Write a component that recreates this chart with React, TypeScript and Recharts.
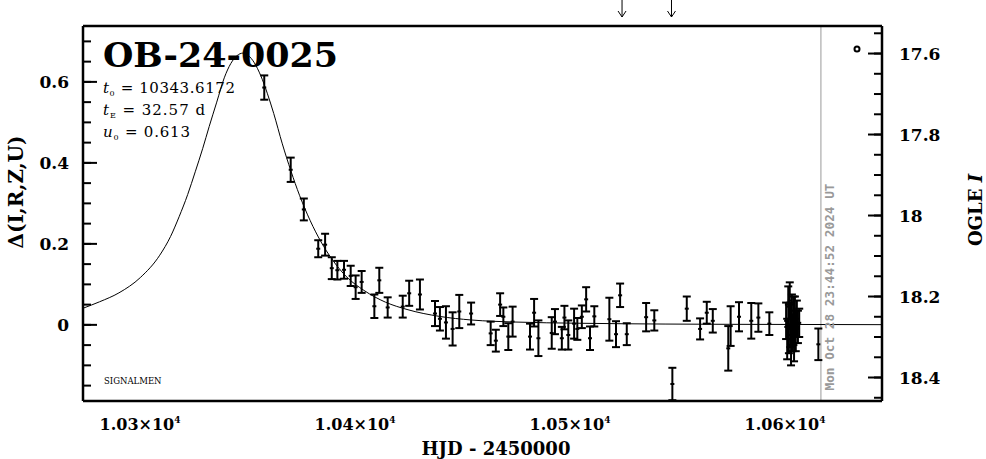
import React from 'react';
import { ComposedChart, Line, Scatter, ErrorBar, XAxis, YAxis, ReferenceLine } from 'recharts';

// OGLE photometry: HJD-2450000, delta magnitude and its error
const obsHjd = [
  10353.6, 10365.9, 10372.0, 10378.7, 10381.9, 10385.0, 10387.6, 10390.7, 10393.8, 10396.1,
  10398.9, 10404.8, 10407.1, 10411.0, 10418.0, 10421.0, 10426.0, 10433.0, 10435.3, 10438.1,
  10441.2, 10444.3, 10449.8, 10458.9, 10461.3, 10463.3, 10464.8, 10467.1, 10469.1, 10477.2,
  10479.1, 10481.1, 10487.3, 10488.8, 10492.0, 10493.2, 10495.0, 10497.7, 10499.2, 10501.3,
  10503.3, 10505.1, 10507.1, 10514.1, 10517.2, 10519.1, 10522.2, 10531.2, 10535.0, 10543.4,
  10550.1, 10556.3, 10559.4, 10562.2, 10569.4, 10570.5, 10574.4, 10580.1, 10583.4, 10588.5,
  10596.3, 10596.8, 10597.3, 10597.6, 10598.0, 10598.3, 10598.6, 10599.0, 10599.3, 10599.7,
  10600.0, 10600.4, 10600.8, 10601.3, 10601.8, 10602.4, 10611.3,
];
const obsDelta = [
  0.586, 0.383, 0.285, 0.188, 0.198, 0.140, 0.135, 0.136, 0.121, 0.093,
  0.106, 0.046, 0.110, 0.043, 0.045, 0.078, 0.075, 0.028, 0.015, 0.006,
  -0.010, 0.033, 0.028, -0.021, -0.039, 0.050, 0.020, -0.029, 0.008, -0.029,
  0.030, -0.033, -0.020, 0.008, -0.033, 0.018, -0.025, 0.003, -0.010, 0.020,
  0.063, -0.033, 0.021, 0.014, -0.023, 0.073, -0.023, 0.019, 0.011, -0.146,
  0.040, -0.010, 0.030, 0.010, -0.058, -0.003, 0.020, 0.010, 0.018, 0.003,
  0.010, -0.035, 0.045, -0.010, 0.060, 0.000, -0.050, 0.025, -0.020, 0.010,
  -0.040, 0.030, -0.015, 0.015, -0.005, 0.005, -0.048,
];
const obsErr = [
  0.030, 0.030, 0.027, 0.021, 0.027, 0.027, 0.023, 0.022, 0.025, 0.029,
  0.027, 0.029, 0.031, 0.025, 0.027, 0.031, 0.037, 0.031, 0.029, 0.040,
  0.041, 0.041, 0.027, 0.029, 0.027, 0.028, 0.023, 0.033, 0.037, 0.032,
  0.034, 0.044, 0.039, 0.031, 0.028, 0.029, 0.036, 0.037, 0.027, 0.028,
  0.030, 0.029, 0.025, 0.053, 0.032, 0.029, 0.027, 0.035, 0.025, 0.040,
  0.030, 0.026, 0.027, 0.029, 0.055, 0.049, 0.036, 0.044, 0.035, 0.028,
  0.045, 0.050, 0.050, 0.060, 0.045, 0.055, 0.050, 0.050, 0.045, 0.060,
  0.050, 0.040, 0.050, 0.045, 0.040, 0.035, 0.039,
];

// model light curve
const modelHjd = [
  10269.3, 10277, 10286, 10296, 10305, 10310, 10314, 10318, 10321.5, 10325,
  10328, 10331.5, 10335, 10338, 10341, 10343.6, 10346, 10349, 10352, 10355,
  10358, 10362, 10366, 10370, 10375, 10380, 10385, 10392, 10400, 10410,
  10420, 10435, 10450, 10470, 10500, 10540, 10600, 10640.9,
];
const modelDelta = [
  0.041, 0.057, 0.079, 0.117, 0.172, 0.218, 0.267, 0.322, 0.378, 0.436,
  0.49, 0.55, 0.61, 0.645, 0.665, 0.671, 0.666, 0.647, 0.615, 0.572,
  0.522, 0.447, 0.38, 0.32, 0.257, 0.205, 0.163, 0.118, 0.085, 0.056,
  0.038, 0.021, 0.012, 0.007, 0.004, 0.002, 0.001, 0.0005,
];

const arrowHjd = [10520, 10543];
const nowHjd = 10612.5;

const xMajorTicks = [10300, 10400, 10500, 10600];
const xMinorTicks = [
  10280, 10300, 10320, 10340, 10360, 10380, 10400, 10420, 10440, 10460,
  10480, 10500, 10520, 10540, 10560, 10580, 10600, 10620, 10640,
];
const deltaMajorTicks = [0, 0.2, 0.4, 0.6];
const deltaMinorTicks = [
  -0.15, -0.1, -0.05, 0, 0.05, 0.1, 0.15, 0.2, 0.25, 0.3, 0.35, 0.4, 0.45, 0.5, 0.55, 0.6, 0.65, 0.7,
];
const magMajorTicks = [17.6, 17.8, 18, 18.2, 18.4];
const magMinorTicks = [
  17.55, 17.6, 17.65, 17.7, 17.75, 17.8, 17.85, 17.9, 17.95, 18, 18.05, 18.1, 18.15, 18.2, 18.25,
  18.3, 18.35, 18.4, 18.45,
];

const X_DOMAIN: [number, number] = [10269.3, 10640.9];
const DELTA_DOMAIN: [number, number] = [-0.188, 0.738];
const MAG_DOMAIN: [number, number] = [17.532, 18.458];

const observations = obsHjd.map((x, i) => ({ x, y: obsDelta[i], err: obsErr[i] }));
const model = modelHjd.map((x, i) => ({ x, y: modelDelta[i] }));
const arrows = arrowHjd.map((x) => ({ x, y: DELTA_DOMAIN[1] }));

const SERIF = 'DejaVu Serif';
const tickFont = { fill: '#000', fontSize: 17, fontWeight: 'bold', fontFamily: SERIF };
const frameLine = { stroke: '#000', strokeWidth: 2.5 };
const tickStroke = { stroke: '#000', strokeWidth: 2 };

// tick marks only, no label
const NoLabel = () => <g />;

const XTick = ({ x, y, payload }: any) => (
  <text x={x - 9} y={y + 29} textAnchor="middle" fontFamily={SERIF} fontWeight="bold" fontSize={16} fill="#000">
    {(payload.value / 10000).toFixed(2)}×10
    <tspan dy={-7} fontSize={9}>4</tspan>
  </text>
);

const ObsPoint = ({ cx, cy }: any) => <rect x={cx - 2} y={cy - 1} width={4} height={2} fill="#000" />;

const ArrowMark = ({ cx, cy }: any) => (
  <g>
    <line x1={cx} y1={cy - 26} x2={cx} y2={cy - 9} stroke="#000" strokeWidth={1} />
    <path d={`M${cx - 4},${cy - 15} L${cx},${cy - 9} L${cx + 4},${cy - 15}`} fill="none" stroke="#000" strokeWidth={1} />
  </g>
);

export default function App() {
  return (
    <div style={{ position: 'absolute', left: 0, top: 0, width: 986, height: 459, background: '#fff' }}>
      <ComposedChart width={986} height={459} margin={{ top: 26, right: 0, bottom: 0, left: 0 }}>
        {/* inward tick marks (mirrored axes go first so they sit on the frame) */}
        <XAxis xAxisId="xb1" orientation="bottom" mirror type="number" domain={X_DOMAIN} allowDataOverflow
          ticks={xMajorTicks} interval={0} tick={<NoLabel />} tickSize={14} height={1} axisLine={frameLine} tickLine={tickStroke} />
        <XAxis xAxisId="xb2" orientation="bottom" mirror type="number" domain={X_DOMAIN} allowDataOverflow
          ticks={xMinorTicks} interval={0} tick={<NoLabel />} tickSize={7} height={1} axisLine={false} tickLine={tickStroke} />
        <XAxis xAxisId="xt1" orientation="top" mirror type="number" domain={X_DOMAIN} allowDataOverflow
          ticks={xMajorTicks} interval={0} tick={<NoLabel />} tickSize={14} height={1} axisLine={frameLine} tickLine={tickStroke} />
        <XAxis xAxisId="xt2" orientation="top" mirror type="number" domain={X_DOMAIN} allowDataOverflow
          ticks={xMinorTicks} interval={0} tick={<NoLabel />} tickSize={7} height={1} axisLine={false} tickLine={tickStroke} />
        <YAxis yAxisId="dl1" orientation="left" mirror type="number" domain={DELTA_DOMAIN} allowDataOverflow
          ticks={deltaMajorTicks} interval={0} tick={<NoLabel />} tickSize={14} width={1} axisLine={frameLine} tickLine={tickStroke} />
        <YAxis yAxisId="dl2" orientation="left" mirror type="number" domain={DELTA_DOMAIN} allowDataOverflow
          ticks={deltaMinorTicks} interval={0} tick={<NoLabel />} tickSize={7} width={1} axisLine={false} tickLine={tickStroke} />
        <YAxis yAxisId="mr1" orientation="right" mirror type="number" domain={MAG_DOMAIN} reversed allowDataOverflow
          ticks={magMajorTicks} interval={0} tick={<NoLabel />} tickSize={14} width={1} axisLine={frameLine} tickLine={tickStroke} />
        <YAxis yAxisId="mr2" orientation="right" mirror type="number" domain={MAG_DOMAIN} reversed allowDataOverflow
          ticks={magMinorTicks} interval={0} tick={<NoLabel />} tickSize={7} width={1} axisLine={false} tickLine={tickStroke} />

        {/* labelled axes */}
        <XAxis xAxisId="x" dataKey="x" type="number" domain={X_DOMAIN} ticks={xMajorTicks} interval={0}
          height={58} tickSize={0} tickMargin={0} axisLine={false} tickLine={false} tick={<XTick />} />
        <YAxis yAxisId="d" dataKey="y" type="number" domain={DELTA_DOMAIN} ticks={deltaMajorTicks} interval={0}
          width={83} tickSize={0} tickMargin={14} axisLine={false} tickLine={false} tick={tickFont}
          tickFormatter={(v: number) => String(v)} />
        <YAxis yAxisId="m" orientation="right" type="number" domain={MAG_DOMAIN} reversed allowDataOverflow
          ticks={magMajorTicks} interval={0} width={104} tickSize={0} tickMargin={17} axisLine={false}
          tickLine={false} tick={tickFont} tickFormatter={(v: number) => String(v)} />

        <ReferenceLine xAxisId="x" yAxisId="d" x={nowHjd} stroke="#999" strokeWidth={1} />

        <Line xAxisId="x" yAxisId="d" data={model} dataKey="y" type="monotone" stroke="#000"
          strokeWidth={1} dot={false} isAnimationActive={false} />
        <Scatter xAxisId="x" yAxisId="d" data={observations} dataKey="y" shape={<ObsPoint />} isAnimationActive={false}>
          <ErrorBar dataKey="err" direction="y" width={4} strokeWidth={2} stroke="#000" isAnimationActive={false} />
        </Scatter>
        <Scatter xAxisId="x" yAxisId="d" data={arrows} dataKey="y" shape={<ArrowMark />} isAnimationActive={false} />
      </ComposedChart>

      <svg width={986} height={459} style={{ position: 'absolute', left: 0, top: 0, pointerEvents: 'none' }}>
        <text x={103} y={67} fontFamily={SERIF} fontWeight="bold" fontSize={33} textLength={235}
          lengthAdjust="spacingAndGlyphs" fill="#000">OB-24-0025</text>
        <g fontFamily={SERIF} fontSize={15} fill="#000">
          <text x={103} y={93} textLength={132} lengthAdjust="spacing">
            <tspan fontStyle="italic">t</tspan><tspan fontSize={8} dy={3}>0</tspan>
            <tspan dy={-3}> = 10343.6172</tspan>
          </text>
          <text x={103} y={115} textLength={102} lengthAdjust="spacing">
            <tspan fontStyle="italic">t</tspan><tspan fontSize={8} dy={3}>E</tspan>
            <tspan dy={-3}> = 32.57 d</tspan>
          </text>
          <text x={103} y={137} textLength={87} lengthAdjust="spacing">
            <tspan fontStyle="italic">u</tspan><tspan fontSize={8} dy={3}>0</tspan>
            <tspan dy={-3}> = 0.613</tspan>
          </text>
        </g>
        <text x={104} y={384} fontFamily={SERIF} fontSize={8.5} fill="#000">SIGNALMEN</text>
        <circle cx={857} cy={49} r={2.5} fill="none" stroke="#000" strokeWidth={2} />
        <text x={496} y={455} textAnchor="middle" fontFamily={SERIF} fontWeight="bold" fontSize={18} fill="#000">
          HJD - 2450000
        </text>
        <text transform="translate(23,192) rotate(-90)" textAnchor="middle" fontFamily={SERIF}
          fontWeight="bold" fontSize={20} fill="#000">Δ(I,R,Z,U)</text>
        <text transform="translate(982,210) rotate(-90)" textAnchor="middle" fontFamily={SERIF}
          fontWeight="bold" fontSize={18} fill="#000">
          OGLE <tspan fontStyle="italic">I</tspan>
        </text>
        <text transform="translate(834,287) rotate(-90)" textAnchor="middle" fontFamily="DejaVu Sans Mono"
          fontWeight="bold" fontSize={12} fill="#999" textLength={207} lengthAdjust="spacingAndGlyphs">
          Mon Oct 28 23:44:52 2024 UT
        </text>
      </svg>
    </div>
  );
}
